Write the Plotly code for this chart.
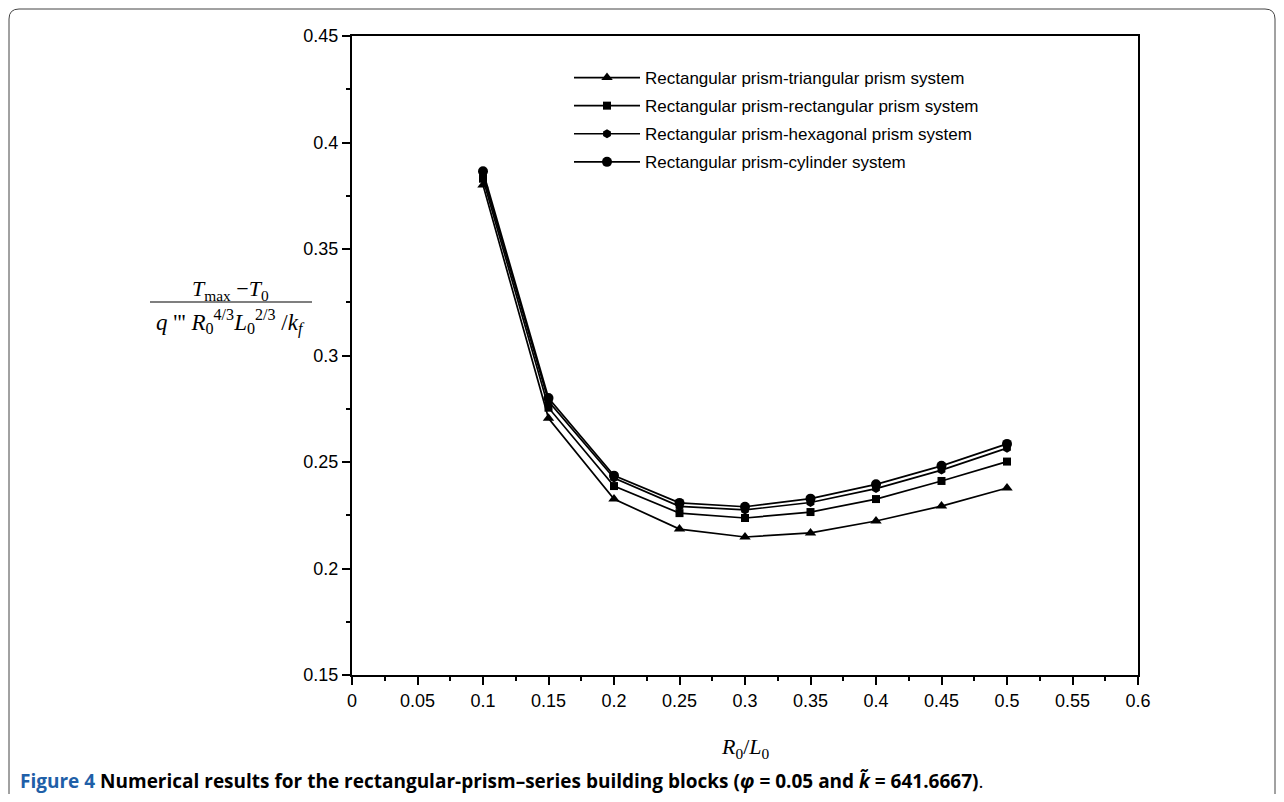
import plotly.graph_objects as go

# ---- data ----
x_vals = [0.1, 0.15, 0.2, 0.25, 0.3, 0.35, 0.4, 0.45, 0.5]
tri_vals = [0.380, 0.2705, 0.2326, 0.2185, 0.2148, 0.2167, 0.2223, 0.2293, 0.2378]
sq_vals = [0.383, 0.2755, 0.2387, 0.2260, 0.2237, 0.2265, 0.2326, 0.2411, 0.2502]
hex_vals = [0.385, 0.2785, 0.2425, 0.2292, 0.2275, 0.2310, 0.2375, 0.2462, 0.2565]
cyl_vals = [0.3865, 0.2800, 0.2436, 0.2308, 0.2290, 0.2328, 0.2395, 0.2482, 0.2585]

series_names = [
    "Rectangular prism-triangular prism system",
    "Rectangular prism-rectangular prism system",
    "Rectangular prism-hexagonal prism system",
    "Rectangular prism-cylinder system",
]
series_values = [tri_vals, sq_vals, hex_vals, cyl_vals]
series_symbols = ["triangle-up", "square", "hexagon", "circle"]
series_sizes = [10, 8, 9, 10]

# page has an 8px body margin; figure sized to fit without scrollbars
OFF = 8
W, H = 1284 - 2 * OFF, 802 - 2 * OFF
# plot-area edges in screen pixels
L, R, T, B = 352, 1138, 36, 675


def px(xp):
    return (xp - L) / (R - L)


def py(yp):
    return (B - yp) / (B - T)


fig = go.Figure()
for i, (name, vals, sym, sz) in enumerate(zip(series_names, series_values, series_symbols, series_sizes)):
    fig.add_trace(go.Scatter(
        x=x_vals, y=vals, name=name, mode="lines+markers",
        line=dict(color="black", width=1.7),
        marker=dict(symbol=sym, size=sz, color="black"),
        legendgroup=f"g{i}",
    ))

axis_font = dict(family="Liberation Sans, Arial", size=18, color="black")
fig.update_xaxes(
    range=[0, 0.6], dtick=0.05, tick0=0, showgrid=False, zeroline=False,
    showline=True, linecolor="black", linewidth=2, mirror=True,
    ticks="outside", ticklen=8, tickwidth=2, tickcolor="black",
    minor=dict(dtick=0.025, ticklen=4, tickwidth=2, tickcolor="black", ticks="outside", showgrid=False),
    tickfont=axis_font,
)
fig.update_yaxes(
    range=[0.15, 0.45], dtick=0.05, tick0=0.15, showgrid=False, zeroline=False,
    showline=True, linecolor="black", linewidth=2, mirror=True,
    ticks="outside", ticklen=8, tickwidth=2, tickcolor="black",
    minor=dict(dtick=0.025, ticklen=4, tickwidth=2, tickcolor="black", ticks="outside", showgrid=False),
    tickfont=axis_font,
)

serif = "Liberation Serif, Times New Roman"
annotations = [
    dict(text="<i>T</i><sub>max</sub> \u2212<i>T</i><sub>0</sub>", x=px(230), y=py(290),
         xref="paper", yref="paper", showarrow=False, xanchor="center", yanchor="middle",
         font=dict(family=serif, size=22, color="black")),
    dict(text="<i>q</i> ''' <i>R</i><sub>0</sub><sup>4/3</sup><i>L</i><sub>0</sub><sup>2/3</sup> /<i>k</i><sub><i>f</i></sub>",
         x=px(230), y=py(322), xref="paper", yref="paper", showarrow=False,
         xanchor="center", yanchor="middle", font=dict(family=serif, size=23, color="black")),
    dict(text="<i>R</i><sub>0</sub>/<i>L</i><sub>0</sub>", x=0.5, y=py(748),
         xref="paper", yref="paper", showarrow=False, xanchor="center", yanchor="middle",
         font=dict(family=serif, size=22, color="black")),
    dict(text="<b><span style='color:#1f5fa8'>Figure 4</span> Numerical results for the rectangular-prism\u2013series building blocks "
              "(<i>\u03c6</i> = 0.05 and <i>k\u0303</i> = 641.6667)</b>.",
         x=px(18), y=py(781), xref="paper", yref="paper", showarrow=False,
         xanchor="left", yanchor="middle", font=dict(family="Open Sans, Arial", size=19, color="black")),
]

shapes = [
    dict(type="line", xref="paper", yref="paper", x0=px(150), x1=px(312), y0=py(302), y1=py(302),
         line=dict(color="black", width=1.2)),
    dict(type="path", xref="paper", yref="paper",
         path=(f"M {px(9)},{py(810)} L {px(9)},{py(19)} Q {px(9)},{py(9)} {px(19)},{py(9)} "
               f"L {px(1265)},{py(9)} Q {px(1275)},{py(9)} {px(1275)},{py(19)} L {px(1275)},{py(810)}"),
         line=dict(color="#444444", width=1)),
]

fig.update_layout(
    width=W, height=H,
    margin=dict(l=L - OFF, r=W - (R - OFF), t=T - OFF, b=H - (B - OFF), autoexpand=False),
    paper_bgcolor="white", plot_bgcolor="white",
    showlegend=True,
    legend=dict(x=px(569), y=py(60), xanchor="left", yanchor="top",
                font=dict(family="Liberation Sans, Arial", size=17, color="black"),
                bgcolor="rgba(0,0,0,0)", itemwidth=66, tracegroupgap=3),
    annotations=annotations, shapes=shapes,
)

fig.write_html("out.html")
